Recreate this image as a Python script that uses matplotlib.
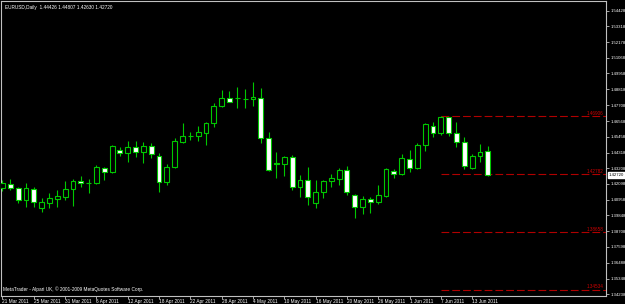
import matplotlib
matplotlib.use("Agg")
import matplotlib.pyplot as plt
import numpy as np
import pandas as pd

# EURUSD daily bars, 21 Mar 2011 - 15 Jun 2011
dates = pd.bdate_range("2011-03-21", "2011-06-15")
opens = [1.4178, 1.4211, 1.4183, 1.4095, 1.4173, 1.4040, 1.4076, 1.4100, 1.4119, 1.4171,
         1.4230, 1.4214, 1.4214, 1.4325, 1.4297, 1.4451, 1.4428, 1.4475, 1.4435, 1.4482,
         1.4410, 1.4225, 1.4328, 1.4510, 1.4548, 1.4553, 1.4574, 1.4641, 1.4766, 1.4819,
         1.4820, 1.4814, 1.4812, 1.4823, 1.4534, 1.4361, 1.4349, 1.4403, 1.4190, 1.4237,
         1.4072, 1.4154, 1.4232, 1.4242, 1.4309, 1.4127, 1.4042, 1.4100, 1.4077, 1.4126,
         1.4304, 1.4278, 1.4389, 1.4321, 1.4484, 1.4624, 1.4570, 1.4684, 1.4570, 1.4506,
         1.4325, 1.4410, 1.44426]
highs = [1.4237, 1.4242, 1.4190, 1.4214, 1.4190, 1.4107, 1.4143, 1.4166, 1.4230, 1.4242,
         1.4266, 1.4242, 1.4344, 1.4332, 1.4487, 1.4475, 1.4515, 1.4515, 1.4510, 1.4499,
         1.4428, 1.4351, 1.4536, 1.4641, 1.4581, 1.4622, 1.4653, 1.4788, 1.4878, 1.4871,
         1.4897, 1.4885, 1.4933, 1.4890, 1.4581, 1.4435, 1.4408, 1.4415, 1.4273, 1.4332,
         1.4237, 1.4237, 1.4278, 1.4325, 1.4339, 1.4138, 1.4124, 1.4119, 1.4202, 1.4321,
         1.4314, 1.4420, 1.4451, 1.4503, 1.4641, 1.4648, 1.4693, 1.4688, 1.4653, 1.4541,
         1.4423, 1.4494, 1.44807]
lows = [1.4159, 1.4166, 1.4072, 1.4047, 1.4047, 1.4012, 1.4040, 1.4047, 1.4095, 1.4054,
        1.4190, 1.4147, 1.4207, 1.4237, 1.4285, 1.4408, 1.4368, 1.4403, 1.4361, 1.4392,
        1.4154, 1.4202, 1.4321, 1.4499, 1.4522, 1.4515, 1.4487, 1.4617, 1.4759, 1.4791,
        1.4752, 1.4748, 1.4764, 1.4503, 1.4304, 1.4250, 1.4266, 1.4166, 1.4119, 1.4059,
        1.4036, 1.4111, 1.4185, 1.4202, 1.4131, 1.3965, 1.3995, 1.4005, 1.4064, 1.4119,
        1.4254, 1.4273, 1.4297, 1.4316, 1.4446, 1.4546, 1.4558, 1.4551, 1.4470, 1.4314,
        1.4314, 1.4368, 1.42630]
closes = [1.4214, 1.4183, 1.4095, 1.4178, 1.4079, 1.4079, 1.4107, 1.4124, 1.4171, 1.4230,
          1.4214, 1.4215, 1.4328, 1.4297, 1.4480, 1.4428, 1.4475, 1.4435, 1.4482, 1.4423,
          1.4221, 1.4328, 1.4515, 1.4551, 1.4547, 1.4577, 1.4641, 1.4764, 1.4819, 1.4795,
          1.4821, 1.4815, 1.4826, 1.4534, 1.4309, 1.4349, 1.4403, 1.4190, 1.4237, 1.4114,
          1.4154, 1.4232, 1.4250, 1.4309, 1.4150, 1.4043, 1.4101, 1.4081, 1.4131, 1.4314,
          1.4280, 1.4392, 1.4325, 1.4484, 1.4634, 1.4570, 1.4684, 1.4570, 1.4506, 1.4339,
          1.4410, 1.4439, 1.42720]

# horizontal levels drawn from 7 Jun
levels = [1.46906, 1.42782, 1.38658, 1.34534]
level_start = 56

price_ticks = [1.54428, 1.53318, 1.52178, 1.51068, 1.49958, 1.48818, 1.47708, 1.46568,
               1.45458, 1.44318, 1.43208, 1.42098, 1.40958, 1.39848, 1.38708, 1.37598,
               1.36488, 1.35348, 1.34238]

GREEN = "#00c800"
GRID = "#c0c0c0"
LEVEL = "#b00000"

fig = plt.figure(figsize=(6.25, 3.04), dpi=100, facecolor="black")
ax = fig.add_axes([1 / 625, 8 / 304, 605 / 625, 295 / 304], facecolor="black")

x = np.arange(len(opens))
o = np.array(opens)
c = np.array(closes)
h = np.array(highs)
l = np.array(lows)
up = c >= o

# wicks
ax.vlines(x, l, h, color=GREEN, lw=0.8, zorder=2)
# bodies: bullish hollow (black), bearish white
bottom = np.minimum(o, c)
height = np.maximum(np.abs(c - o), 0.00005)
ax.bar(x[up], height[up], bottom=bottom[up], width=0.62, facecolor="black",
       edgecolor=GREEN, linewidth=0.8, zorder=3)
ax.bar(x[~up], height[~up], bottom=bottom[~up], width=0.62, facecolor="white",
       edgecolor=GREEN, linewidth=0.8, zorder=3)

xmax = 77.1
ax.set_xlim(-0.19, xmax)
ax.set_ylim(1.34108, 1.55119)

# levels
for lv in levels:
    ax.hlines(lv, level_start, xmax, color=LEVEL, lw=0.8, linestyle=(0, (7, 2.7)), zorder=1)
    ax.text(xmax - 0.35, lv + 0.0004, f"{lv:.5f}", color="#d00000", fontsize=3.3,
            family="Liberation Sans", ha="right", va="bottom")

# axes styling
for s in ax.spines.values():
    s.set_color(GRID)
    s.set_linewidth(0.8)

ax.yaxis.tick_right()
ax.set_yticks(price_ticks, [f"{p:.5f}" for p in price_ticks])
ax.tick_params(axis="y", colors=GRID, labelcolor="white", length=2.2, width=0.6,
               pad=1.0, labelsize=3.1, direction="out")

tick_idx = x[::4]
ax.set_xticks(tick_idx, [f"{d.day} {d:%b %Y}" for d in dates[::4]], ha="left")
ax.tick_params(axis="x", colors=GRID, labelcolor="white", length=2.2, width=0.6,
               pad=0.3, labelsize=3.4, direction="out")
for lab in ax.get_xticklabels() + ax.get_yticklabels():
    lab.set_family("Liberation Sans")

# current price marker
ax.annotate(f"{closes[-1]:.5f}", xy=(1.0, closes[-1]), xycoords=("axes fraction", "data"),
            xytext=(2.2, 0), textcoords="offset points", ha="left", va="center",
            fontsize=3.1, family="Liberation Sans", color="black",
            bbox=dict(boxstyle="square,pad=0.3", fc="white", ec="white"),
            annotation_clip=False)

ax.text(0.006, 0.985, f"EURUSD,Daily  {opens[-1]:.5f} {highs[-1]:.5f} {lows[-1]:.5f} {closes[-1]:.5f}",
        transform=ax.transAxes, color="white", fontsize=3.4, family="Liberation Sans",
        ha="left", va="top")
ax.text(0.004, 0.012, "MetaTrader - Alpari UK, \u00a9 2001-2009 MetaQuotes Software Corp.",
        transform=ax.transAxes, color="white", fontsize=3.4, family="Liberation Sans",
        ha="left", va="bottom")

fig.savefig("out.png", dpi=100, facecolor="black")
